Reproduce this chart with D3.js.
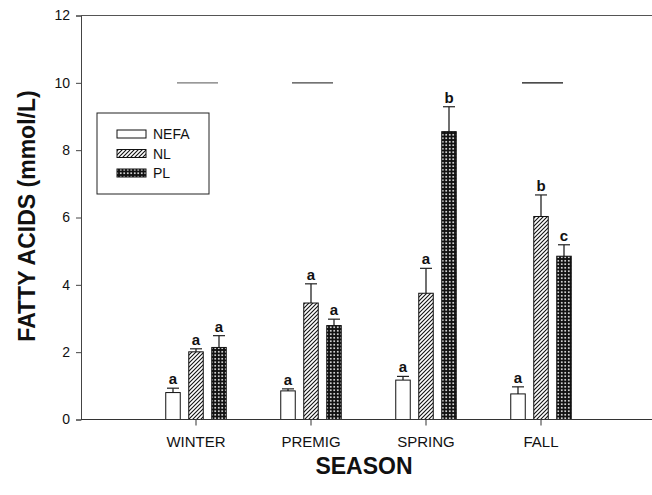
<!DOCTYPE html>
<html><head><meta charset="utf-8">
<script src="https://cdn.jsdelivr.net/npm/d3@7"></script>
<style>body{margin:0;background:#fff}svg{display:block}text{font-family:Arial,"Liberation Sans",sans-serif}</style>
</head><body><svg id="c" width="652" height="495"></svg>
<script>
const seasons = ["WINTER","PREMIG","SPRING","FALL"];
const seriesNames = ["NEFA","NL","PL"];
const nefa = [0.80, 0.85, 1.17, 0.76];
const nefaErr = [0.13, 0.06, 0.11, 0.21];
const nl = [2.01, 3.46, 3.75, 6.03];
const nlErr = [0.09, 0.57, 0.74, 0.64];
const pl = [2.14, 2.79, 8.55, 4.85];
const plErr = [0.35, 0.19, 0.74, 0.34];
const nefaLetters = ["a","a","a","a"];
const nlLetters = ["a","a","a","b"];
const plLetters = ["a","a","b","c"];
const yTicks = [0,2,4,6,8,10,12];
const refLineSeasons = ["WINTER","PREMIG","FALL"];
const refLineValue = 10;

const svg = d3.select("#c");
const defs = svg.append("defs");
const ph = defs.append("pattern").attr("id","hatch").attr("patternUnits","userSpaceOnUse").attr("width",4).attr("height",4);
ph.append("rect").attr("width",4).attr("height",4).attr("fill","#fff");
ph.append("path").attr("d","M-1,1 l2,-2 M0,4 l4,-4 M3,5 l2,-2").attr("stroke","#111").attr("stroke-width",1.1);
const pc = defs.append("pattern").attr("id","cross").attr("patternUnits","userSpaceOnUse").attr("width",3.5).attr("height",3.5);
pc.append("rect").attr("width",3.5).attr("height",3.5).attr("fill","#111");
pc.append("circle").attr("cx",1.75).attr("cy",1.75).attr("r",0.95).attr("fill","#fff");

const pLeft = 81, pTop = 15.5, pBottom = 419.5, pRight = 656;
const y = d3.scaleLinear().domain([0,12]).range([pBottom, pTop]);
const x = d3.scalePoint().domain(["", ...seasons, " "]).range([pLeft, pRight]);
const off = d3.scalePoint().domain(seriesNames).range([-23, 23]);
const fills = {NEFA:"#fff", NL:"url(#hatch)", PL:"url(#cross)"};
const series = [
  {name:"NEFA", v:nefa, e:nefaErr, l:nefaLetters},
  {name:"NL", v:nl, e:nlErr, l:nlLetters},
  {name:"PL", v:pl, e:plErr, l:plLetters}
];
const bw = 14.5, cap = 12;

svg.append("line").attr("x1",pLeft).attr("x2",652).attr("y1",pTop).attr("y2",pTop).attr("stroke","#555").attr("stroke-width",1);
svg.selectAll(".ref").data(refLineSeasons).join("line")
  .attr("x1",d=>x(d)-19).attr("x2",d=>x(d)+22).attr("y1",y(refLineValue)).attr("y2",y(refLineValue))
  .attr("stroke",(d,i)=>["#777","#444","#111"][i]).attr("stroke-width",1.2);

const ya = svg.append("g").attr("transform",`translate(${pLeft},0)`).call(d3.axisLeft(y).tickValues(yTicks).tickSize(5).tickPadding(6).tickFormat(d3.format("d")));
ya.select(".domain").attr("stroke","#444");
ya.selectAll(".tick line").attr("stroke","#444");
ya.selectAll("text").attr("font-size",14).attr("fill","#111").attr("font-family","Arial, 'Liberation Sans', sans-serif");

series.forEach(s=>{
  const g = svg.append("g");
  seasons.forEach((c,i)=>{
    const cx = x(c)+off(s.name);
    g.append("rect").attr("x",cx-bw/2).attr("y",y(s.v[i])).attr("width",bw).attr("height",y(0)-y(s.v[i]))
      .attr("fill",fills[s.name]).attr("stroke","#111").attr("stroke-width",1);
    const et = y(s.v[i]+s.e[i]);
    g.append("line").attr("x1",cx).attr("x2",cx).attr("y1",y(s.v[i])).attr("y2",et).attr("stroke","#111").attr("stroke-width",1.2);
    g.append("line").attr("x1",cx-cap/2).attr("x2",cx+cap/2).attr("y1",et).attr("y2",et).attr("stroke","#222").attr("stroke-width",1.2);
    g.append("text").attr("x",cx).attr("y",et-4).attr("text-anchor","middle").attr("font-size",15).attr("font-weight","bold").attr("fill","#111").text(s.l[i]);
  });
});

svg.append("line").attr("x1",pLeft).attr("x2",652).attr("y1",pBottom).attr("y2",pBottom).attr("stroke","#333").attr("stroke-width",1.2);
svg.selectAll(".xt").data(seasons).join("line").attr("x1",d=>x(d)).attr("x2",d=>x(d)).attr("y1",pBottom).attr("y2",pBottom+6).attr("stroke","#333");
svg.selectAll(".xl").data(seasons).join("text").attr("x",d=>x(d)).attr("y",447).attr("text-anchor","middle").attr("font-size",15).attr("fill","#111").text(d=>d);

svg.append("text").attr("x",364).attr("y",474).attr("text-anchor","middle").attr("font-size",23).attr("font-weight","bold").attr("fill","#111").text("SEASON");
svg.append("text").attr("transform","translate(35,216) rotate(-90)").attr("text-anchor","middle").attr("font-size",23).attr("font-weight","bold").attr("fill","#111").text("FATTY ACIDS (mmol/L)");

const lg = svg.append("g");
lg.append("rect").attr("x",97).attr("y",113).attr("width",112).attr("height",81).attr("fill","#fff").attr("stroke","#222").attr("stroke-width",1);
seriesNames.forEach((n,i)=>{
  const yy = 130 + i*19.5;
  lg.append("rect").attr("x",117).attr("y",yy).attr("width",29).attr("height",8).attr("fill",fills[n]).attr("stroke","#111").attr("stroke-width",1);
  lg.append("text").attr("x",153).attr("y",yy+9).attr("font-size",14).attr("fill","#111").text(n);
});
</script></body></html>
